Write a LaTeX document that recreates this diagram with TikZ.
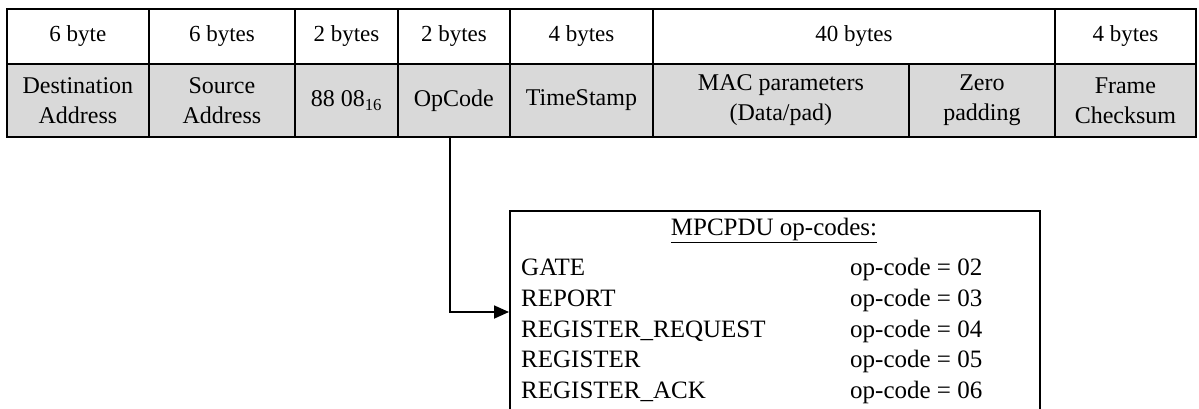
\documentclass[tikz,border=0pt]{standalone}
\usepackage{fontspec}
\setmainfont{Liberation Serif}
\usetikzlibrary{arrows.meta}
\definecolor{fieldgray}{HTML}{D9D9D9}
\begin{document}
\begin{tikzpicture}[x=1pt,y=-1pt,
  cell/.style={draw=black, line width=1.8pt, inner sep=0pt, anchor=north west, align=center},
  headcell/.style={cell, fill=white, minimum height=55pt, font=\fontsize{23}{27}\selectfont},
  fieldcell/.style={cell, fill=fieldgray, minimum height=73pt, font=\fontsize{24}{30}\selectfont},
  listtext/.style={anchor=base west, inner sep=0pt, font=\fontsize{25}{30}\selectfont},
  link/.style={line width=1.8pt, -{Triangle[length=15pt,width=13pt]}}]
\useasboundingbox (0,0) rectangle (1199,408);
\clip (0,0) rectangle (1199,408);

% header row: field sizes
\node[headcell, minimum width=142pt] (h1) at (6,8) {6 byte};
\node[headcell, minimum width=146pt] (h2) at (148,8) {6 bytes};
\node[headcell, minimum width=103pt] (h3) at (294,8) {2 bytes};
\node[headcell, minimum width=112pt] (h4) at (397,8) {2 bytes};
\node[headcell, minimum width=143pt] (h5) at (509,8) {4 bytes};
\node[headcell, minimum width=402pt] (h6) at (652,8) {40 bytes};
\node[headcell, minimum width=141pt] (h7) at (1054,8) {4 bytes};

% frame fields
\node[fieldcell, minimum width=142pt] (f1) at (6,63) {Destination\\Address};
\node[fieldcell, minimum width=146pt] (f2) at (148,63) {Source\\Address};
\node[fieldcell, minimum width=103pt] (f3) at (294,63) {88 08\textsubscript{16}};
\node[fieldcell, minimum width=112pt] (op) at (397,63) {OpCode};
\node[fieldcell, minimum width=143pt] (f5) at (509,63) {TimeStamp};
\node[fieldcell, minimum width=256pt] (f6) at (652,63) {MAC parameters\\(Data/pad)};
\node[fieldcell, minimum width=146pt] (f7) at (908,63) {Zero\\padding};
\node[fieldcell, minimum width=141pt] (f8) at (1054,63) {Frame\\Checksum};

% op-code table
\node[draw=black, line width=1.8pt, anchor=north west, minimum width=530pt, minimum height=215pt, inner sep=0pt] (codes) at (509,210) {};
\node[anchor=base, inner sep=0pt, font=\fontsize{25}{30}\selectfont] (title) at (774,235) {\underline{MPCPDU op-codes:}};

\node[listtext] (n1) at (521,275) {GATE};
\node[listtext] (n2) at (521,306) {REPORT};
\node[listtext] (n3) at (521,337) {REGISTER\_REQUEST};
\node[listtext] (n4) at (521,367) {REGISTER};
\node[listtext] (n5) at (521,398) {REGISTER\_ACK};

\node[listtext] (v1) at (850,275) {op-code = 02};
\node[listtext] (v2) at (850,306) {op-code = 03};
\node[listtext] (v3) at (850,337) {op-code = 04};
\node[listtext] (v4) at (850,367) {op-code = 05};
\node[listtext] (v5) at (850,398) {op-code = 06};

% connector from the OpCode field to the table
\coordinate (entry) at (codes.north west |- 0,312);
\draw[link] ([xshift=-4pt]op.south) |- (entry);
\end{tikzpicture}
\end{document}
